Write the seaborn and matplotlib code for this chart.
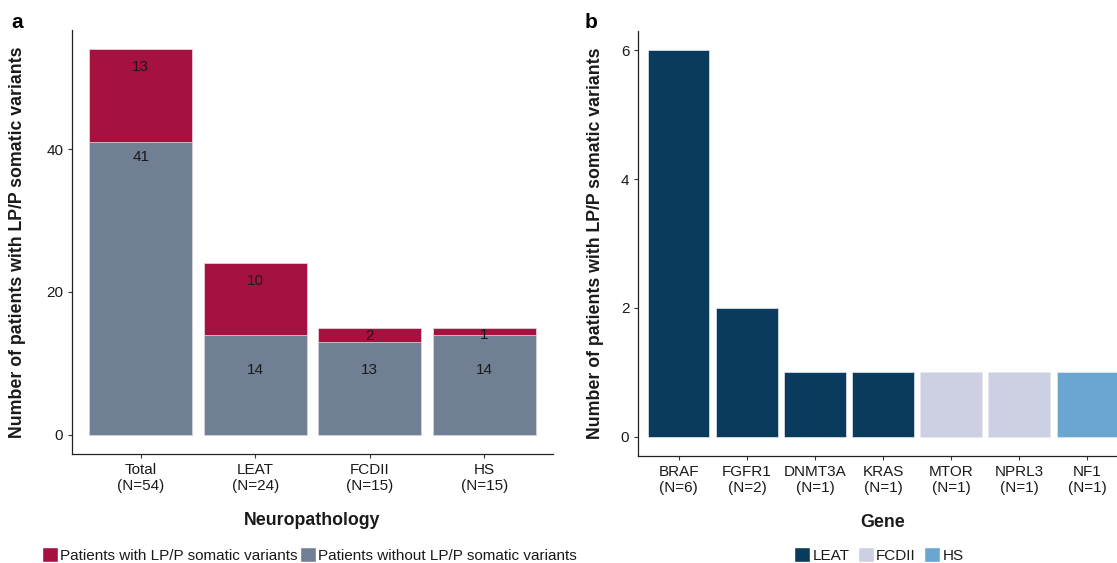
import numpy as np
import pandas as pd
import matplotlib
matplotlib.use("Agg")
import matplotlib.pyplot as plt
from matplotlib.patches import Patch
import seaborn as sns

# ---- data -------------------------------------------------------------
pathology = ["Total", "LEAT", "FCDII", "HS"]
with_variants = [13, 10, 2, 1]
without_variants = [41, 14, 13, 14]

genes = ["BRAF", "FGFR1", "DNMT3A", "KRAS", "MTOR", "NPRL3", "NF1"]
gene_counts = [6, 2, 1, 1, 1, 1, 1]
gene_group = ["LEAT", "LEAT", "LEAT", "LEAT", "FCDII", "FCDII", "HS"]
group_order = ["LEAT", "FCDII", "HS"]

# ---- style ------------------------------------------------------------
sns.set_theme(style="ticks")
plt.rcParams["font.family"] = ["Liberation Sans", "DejaVu Sans"]
plt.rcParams["axes.linewidth"] = 0.9
plt.rcParams["xtick.major.size"] = 2.8
plt.rcParams["ytick.major.size"] = 2.8
plt.rcParams["xtick.major.width"] = 0.8
plt.rcParams["ytick.major.width"] = 0.8

RED = "#A6123F"
GREY = "#707F94"
group_colors = {"LEAT": "#083B5C", "FCDII": "#CDCFE2", "HS": "#6BA6D0"}
TXT = "#1a1a1a"
TICK_FS = 11
LAB_FS = 12.75

W, H = 1117, 563
fig = plt.figure(figsize=(W / 100, H / 100), dpi=100)


def px_axes(left, top, right, bottom):
    return fig.add_axes([left / W, 1 - bottom / H, (right - left) / W, (bottom - top) / H])


def style_axes(ax):
    sns.despine(ax=ax)
    ax.tick_params(axis="both", colors="#333333", labelcolor=TXT, labelsize=TICK_FS)
    for s in ("left", "bottom"):
        ax.spines[s].set_color("#222222")


# ---- panel a: stacked bars -------------------------------------------
df_a = pd.DataFrame({
    "pathology": pathology,
    "with": with_variants,
    "without": without_variants,
})
df_a["total"] = df_a["with"] + df_a["without"]

ax1 = px_axes(72, 30, 553, 454)
sns.barplot(data=df_a, x="pathology", y="total", color=RED, width=0.9,
            edgecolor="#f0dbe2", linewidth=0.5, saturation=1, ax=ax1)
sns.barplot(data=df_a, x="pathology", y="without", color=GREY, width=0.9,
            edgecolor="#dfe3ea", linewidth=0.5, saturation=1, ax=ax1)

for i, row in df_a.iterrows():
    seg = row["with"]
    low = row["without"]
    # counts sit just under the top of their segment; short grey bars share one height
    y_red = row["total"] - float(np.clip(0.6 * seg, 1.0, 2.5))
    y_grey = low - 2.1 if low > 20 else 9.0
    ax1.text(i, y_red, str(seg), ha="center", va="center", fontsize=TICK_FS, color=TXT)
    ax1.text(i, y_grey, str(low), ha="center", va="center", fontsize=TICK_FS, color=TXT)

ax1.set_xlim(-0.6, len(pathology) - 0.4)
ax1.set_ylim(-0.05 * df_a["total"].max(), 1.05 * df_a["total"].max())
ax1.set_yticks([0, 20, 40])
ax1.set_xticks(range(len(pathology)))
ax1.set_xticklabels([f"{p}\n(N={n})" for p, n in zip(pathology, df_a["total"])])
ax1.set_xlabel("Neuropathology", fontsize=LAB_FS, fontweight="bold", color=TXT, labelpad=14)
ax1.set_ylabel("Number of patients with LP/P somatic variants", fontsize=LAB_FS,
               fontweight="bold", color=TXT)
ax1.yaxis.set_label_coords(-0.096, 0.5)
style_axes(ax1)

# ---- panel b: variants per gene --------------------------------------
df_b = pd.DataFrame({"gene": genes, "count": gene_counts, "group": gene_group})

ax2 = px_axes(638, 31, 1128, 456)
sns.barplot(data=df_b, x="gene", y="count", hue="group", hue_order=group_order,
            palette=group_colors, dodge=False, width=0.9, saturation=1,
            edgecolor="#e6e8ef", linewidth=0.5, legend=False, ax=ax2)
ax2.set_xlim(-0.6, len(genes) - 0.4)
ax2.set_ylim(-0.05 * max(gene_counts), 1.05 * max(gene_counts))
ax2.set_yticks([0, 2, 4, 6])
ax2.set_xticks(range(len(genes)))
ax2.set_xticklabels([f"{g}\n(N={n})" for g, n in zip(genes, gene_counts)])
ax2.set_xlabel("Gene", fontsize=LAB_FS, fontweight="bold", color=TXT, labelpad=14)
ax2.set_ylabel("Number of patients with LP/P somatic variants", fontsize=LAB_FS,
               fontweight="bold", color=TXT)
ax2.yaxis.set_label_coords(-0.069, 0.5)
style_axes(ax2)

# ---- legends ------------------------------------------------------------
leg_kw = dict(frameon=False, fontsize=TICK_FS, handlelength=1.05, handleheight=1.05,
              handletextpad=0.15, borderpad=0, borderaxespad=0, loc="center left")
leg_a = fig.legend(
    handles=[Patch(facecolor=RED, label="Patients with LP/P somatic variants"),
             Patch(facecolor=GREY, label="Patients without LP/P somatic variants")],
    ncol=2, columnspacing=0.15, bbox_to_anchor=(42 / W, 1 - 555 / H), **leg_kw)
leg_b = fig.legend(
    handles=[Patch(facecolor=group_colors[g], label=g) for g in group_order],
    ncol=3, columnspacing=0.55, bbox_to_anchor=(794 / W, 1 - 555 / H), **leg_kw)
for leg in (leg_a, leg_b):
    for t in leg.get_texts():
        t.set_color(TXT)

# ---- panel letters ------------------------------------------------------
fig.text(11 / W, 1 - 22 / H, "a", fontsize=15, fontweight="bold", va="center", color="black")
fig.text(585 / W, 1 - 22 / H, "b", fontsize=15, fontweight="bold", va="center", color="black")

fig.savefig("out.png", dpi=100)
